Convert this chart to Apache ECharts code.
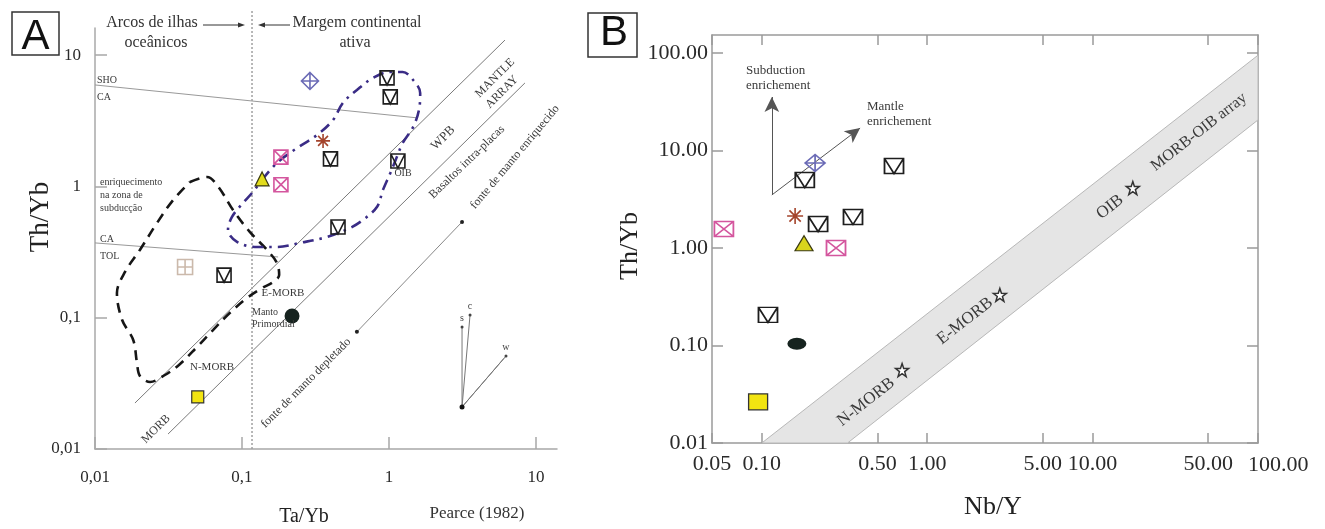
<!DOCTYPE html>
<html>
<head>
<meta charset="utf-8">
<script src="https://cdn.jsdelivr.net/npm/echarts@6/dist/echarts.min.js"></script>
<style>
  html, body { margin: 0; padding: 0; background: #fff; }
  #chart { width: 1325px; height: 529px; }
</style>
</head>
<body>
<div id="chart"></div>
<script>
// ---------- Panel A: Th/Yb vs Ta/Yb (Pearce 1982) ----------
const aTicks = [0.01, 0.1, 1, 10];
const aTickText = ['0,01', '0,1', '1', '10'];

const aSquareV = [[0.97, 6.7], [1.02, 4.8], [0.40, 1.62], [1.15, 1.56], [0.45, 0.49], [0.0755, 0.211]];
const aSquareX = [[0.184, 1.67], [0.184, 1.03]];
const aDiamond = [[0.29, 6.35]];
const aStarburst = [[0.356, 2.22]];
const aTriangle = [[0.137, 1.14]];
const aSquarePlus = [[0.041, 0.243]];
const aPrimordial = [[0.219, 0.103]];
const aYellowSquare = [[0.050, 0.0249]];

// reference lines
const aShoCa = [[0.01, 5.92], [1.57, 3.32]];
const aCaTol = [[0.01, 0.371], [0.176, 0.29]];
const aArrayUpper = [[0.0187, 0.0224], [6.15, 13.0]];
const aArrayLower = [[0.0314, 0.013], [8.41, 6.13]];
const aMantleSource = [[0.605, 0.078], [3.14, 0.536]];
const aDivide = [[0.117, 0.01], [0.117, 22]];
const aVectorOrigin = [3.14, 0.0209];
const aVectorEnds = [['s', 3.14, 0.085], ['c', 3.56, 0.105], ['w', 6.25, 0.051], ['', 6.05, 0.049]];

// fields
const aSubductionField = [
  [0.0443, 1.08], [0.0578, 1.18], [0.0687, 1.0], [0.0869, 0.66], [0.113, 0.45], [0.148, 0.328],
  [0.173, 0.261], [0.179, 0.211], [0.163, 0.187], [0.137, 0.168], [0.108, 0.141], [0.0828, 0.109],
  [0.0635, 0.0805], [0.0494, 0.0598], [0.0379, 0.0444], [0.0299, 0.0366], [0.0237, 0.0324],
  [0.0202, 0.036], [0.0193, 0.0452], [0.0182, 0.0676], [0.0153, 0.096], [0.0141, 0.154],
  [0.016, 0.223], [0.0202, 0.328], [0.0264, 0.526], [0.034, 0.787], [0.0443, 1.08]
];
const aSampleField = [
  [0.137, 1.12], [0.173, 1.51], [0.237, 1.96], [0.324, 2.46], [0.416, 3.2], [0.486, 4.32],
  [0.605, 5.42], [0.778, 6.7], [1.02, 7.43], [1.24, 7.43], [1.46, 6.46], [1.63, 5.14],
  [1.6, 3.82], [1.46, 2.83], [1.24, 2.14], [1.13, 1.67], [1.02, 1.26], [0.91, 0.94],
  [0.83, 0.70], [0.665, 0.555], [0.543, 0.482], [0.379, 0.412], [0.248, 0.371], [0.173, 0.345],
  [0.127, 0.345], [0.0925, 0.378], [0.0803, 0.466], [0.0855, 0.585], [0.1016, 0.748],
  [0.117, 0.89], [0.137, 1.12]
];

// ---------- Panel B: Th/Yb vs Nb/Y ----------
const bXTicks = [0.05, 0.1, 0.5, 1, 5, 10, 50, 100];
const bYTicks = [0.01, 0.1, 1, 10, 100];

const bSquareV = [[0.182, 4.98], [0.63, 6.93], [0.219, 1.76], [0.356, 2.08], [0.109, 0.206]];
const bSquareX = [[0.059, 1.57], [0.281, 1.0]];
const bDiamond = [[0.21, 7.44]];
const bStarburst = [[0.159, 2.13]];
const bTriangle = [[0.18, 1.12]];
const bPrimordial = [[0.163, 0.104]];
const bYellowSquare = [[0.095, 0.0264]];
const bReference = [[0.705, 0.056], [2.75, 0.33], [17.5, 4.12]];
const bArrayUpper = [[0.1, 0.01], [100, 95]];
const bArrayLower = [[0.33, 0.01], [100, 20.6]];
const bSubductionVector = [[0.115, 3.5], [0.115, 35.4]];
const bMantleVector = [[0.115, 3.5], [0.393, 17.0]];

// ---------- helpers ----------
const L = Math.log10;
const toLog = p => [L(p[0]), L(p[1])];
const SERIF = '"Liberation Serif", "DejaVu Serif", serif';

const SYM = {
  squareV: 'path://M0,0H20V20H0Z M0,0L10,20L20,0',
  squareX: 'path://M0,0H20V20H0Z M0,0L20,20 M20,0L0,20',
  squarePlus: 'path://M0,0H20V20H0Z M10,0V20 M0,10H20',
  diamondPlus: 'path://M10,0L20,10L10,20L0,10Z M10,0V20 M0,10H20',
  starburst: 'path://M10,0V20 M0,10H20 M2.93,2.93L17.07,17.07 M17.07,2.93L2.93,17.07',
  star: 'path://M10,0L12.35,6.76L19.51,6.91L13.8,11.24L15.88,18.09L10,14L4.12,18.09L6.2,11.24L0.49,6.91L7.65,6.76Z'
};

function curve(data, gi, lineStyle, extra) {
  return Object.assign({
    type: 'line', xAxisIndex: gi, yAxisIndex: gi, data: data.map(toLog),
    symbol: 'none', silent: true, lineStyle: lineStyle, z: 2
  }, extra || {});
}
function marks(data, gi, symbol, size, itemStyle, z) {
  return {
    type: 'scatter', xAxisIndex: gi, yAxisIndex: gi, data: data.map(toLog),
    symbol: symbol, symbolSize: size, itemStyle: Object.assign({ opacity: 1 }, itemStyle),
    z: z || 5, silent: true
  };
}
const outline = c => ({ color: 'none', borderColor: c, borderWidth: 1.6 });

const axisGreyA = '#a8a8a8';
const axisGreyB = '#9a9a9a';

function logAxis(gridIndex, pos, min, max, ticks, fmt, labelOpts, tickLen, color, labelTicks) {
  const vals = ticks.map(L);
  return {
    gridIndex: gridIndex, type: 'value', position: pos, min: min, max: max,
    axisLine: { show: true, onZero: false, lineStyle: { color: color, width: 1.5 } },
    axisTick: { show: true, inside: true, length: tickLen, customValues: vals, lineStyle: { color: color, width: 1.5 } },
    axisLabel: Object.assign({
      show: !!fmt, customValues: (labelTicks || ticks).map(L), formatter: fmt, fontFamily: SERIF, color: '#2a2a2a',
      showMinLabel: true, showMaxLabel: true, hideOverlap: false
    }, labelOpts || {}),
    splitLine: { show: false }
  };
}
const aFmt = v => {
  const i = aTicks.findIndex(t => Math.abs(L(t) - v) < 1e-6);
  return i < 0 ? '' : aTickText[i];
};
const bFmt = v => Math.pow(10, v).toFixed(2);

const aXMax = 1.143, aYMax = 1.206, bYMax = 2.185;

// ---------- series ----------
const greyLine = { color: '#7a7a7a', width: 1 };
const series = [
  // Panel A reference lines
  curve(aShoCa, 0, { color: '#999', width: 1 }),
  curve(aCaTol, 0, { color: '#999', width: 1 }),
  curve(aArrayUpper, 0, greyLine),
  curve(aArrayLower, 0, greyLine),
  curve(aMantleSource, 0, { color: '#888', width: 1 }),
  marks(aMantleSource, 0, 'circle', 4, { color: '#222' }, 3),
  curve(aDivide, 0, { color: '#a0a0a0', width: 1.5, type: [2, 2] }, { clip: false }),
  // compositional vectors
  ...aVectorEnds.map(e => curve([aVectorOrigin, [e[1], e[2]]], 0, { color: '#777', width: 1 })),
  marks([aVectorOrigin], 0, 'circle', 5, { color: '#111' }, 6),
  {
    type: 'scatter', xAxisIndex: 0, yAxisIndex: 0, silent: true, z: 6,
    data: aVectorEnds.filter(e => e[0]).map(e => ({ value: toLog([e[1], e[2]]), name: e[0] })),
    symbol: 'circle', symbolSize: 3, itemStyle: { color: '#444', opacity: 1 },
    label: { show: true, position: 'top', distance: 2, formatter: p => p.name, fontFamily: SERIF, fontSize: 10, color: '#444' }
  },
  // fields
  curve(aSubductionField, 0, { color: '#161616', width: 2.6, type: [10, 7] }, { smooth: 0.35 }),
  curve(aSampleField, 0, { color: '#3a2c86', width: 2.6, type: [11, 6, 2.5, 6] }, { smooth: 0.35 }),
  // Panel A samples
  marks(aSquareV, 0, SYM.squareV, 14, outline('#1e1e1e')),
  marks(aSquareX, 0, SYM.squareX, 14, outline('#d4569e')),
  marks(aDiamond, 0, SYM.diamondPlus, 17, outline('#6b6bb6')),
  marks(aStarburst, 0, SYM.starburst, 14, outline('#a4442c')),
  marks(aTriangle, 0, 'triangle', 14, { color: '#e2dc1c', borderColor: '#3a3a10', borderWidth: 1.2 }),
  marks(aSquarePlus, 0, SYM.squarePlus, 15, outline('#cbb9ab')),
  marks(aPrimordial, 0, 'circle', 15, { color: '#16231f' }),
  marks(aYellowSquare, 0, 'rect', 12, { color: '#f2e411', borderColor: '#333', borderWidth: 1.2 }),

  // Panel B: MORB-OIB array
  {
    type: 'custom', xAxisIndex: 1, yAxisIndex: 1, silent: true, z: 1,
    data: [[0, 0]],
    renderItem: (params, api) => {
      const poly = [bArrayUpper[0], bArrayUpper[1], bArrayLower[1], bArrayLower[0]]
        .map(p => api.coord(toLog(p)));
      return { type: 'polygon', shape: { points: poly }, style: { fill: '#e5e5e5', stroke: '#b8b8b8', lineWidth: 1 } };
    }
  },
  // enrichment vectors
  {
    type: 'scatter', xAxisIndex: 1, yAxisIndex: 1, data: [], silent: true,
    markLine: {
      silent: true, animation: false, symbol: ['none', 'arrow'], symbolSize: [11, 15],
      label: { show: false },
      lineStyle: { color: '#555', width: 1, type: 'solid' },
      data: [
        [{ coord: toLog(bSubductionVector[0]) }, { coord: toLog(bSubductionVector[1]) }],
        [{ coord: toLog(bMantleVector[0]) }, { coord: toLog(bMantleVector[1]) }]
      ]
    }
  },
  marks(bReference, 1, SYM.star, 13, { color: '#fff', borderColor: '#333', borderWidth: 1.5 }),
  marks(bSquareV, 1, SYM.squareV, [19, 15], outline('#1e1e1e')),
  marks(bSquareX, 1, SYM.squareX, [19, 15], outline('#d4569e')),
  marks(bDiamond, 1, SYM.diamondPlus, [20, 17], outline('#6b6bb6')),
  marks(bStarburst, 1, SYM.starburst, 16, outline('#a4442c')),
  marks(bTriangle, 1, 'triangle', [18, 15], { color: '#d9d41c', borderColor: '#3a3a10', borderWidth: 1.2 }),
  marks(bPrimordial, 1, 'circle', [19, 12], { color: '#16231f' }),
  marks(bYellowSquare, 1, 'rect', [19, 16], { color: '#f2e411', borderColor: '#333', borderWidth: 1.2 })
];

// ---------- annotations ----------
const D = Math.PI / 180;
function txt(s, x, y, size, opts) {
  opts = opts || {};
  return {
    type: 'text', x: x, y: y, rotation: (opts.rot || 0) * D, z: 100, silent: true,
    style: {
      text: s, fill: opts.color || '#3a3a3a', align: opts.align || 'center', verticalAlign: 'middle',
      font: (opts.weight || 'normal') + ' ' + size + 'px ' + (opts.family || SERIF)
    }
  };
}
function arrow(x1, x2, y) {
  const dir = x2 > x1 ? 1 : -1;
  return [
    { type: 'line', z: 100, silent: true, shape: { x1: x1, y1: y, x2: x2 - dir * 6, y2: y }, style: { stroke: '#333', lineWidth: 1 } },
    { type: 'polygon', z: 100, silent: true, shape: { points: [[x2, y], [x2 - dir * 7, y - 2.5], [x2 - dir * 7, y + 2.5]] }, style: { fill: '#333' } }
  ];
}

// the last Nb/Y label sits just past the right edge of the frame
const bLastTick = bXTicks[bXTicks.length - 1];

const graphic = [
  // panel letters
  { type: 'rect', z: 100, silent: true, shape: { x: 12, y: 12, width: 47, height: 43 }, style: { fill: '#fff', stroke: '#333', lineWidth: 1.5 } },
  txt('A', 35.5, 37, 42, { family: '"Liberation Sans", Arial, sans-serif', color: '#111' }),
  { type: 'rect', z: 100, silent: true, shape: { x: 588, y: 13, width: 49, height: 44 }, style: { fill: '#fff', stroke: '#333', lineWidth: 1.5 } },
  txt('B', 614, 33, 42, { family: '"Liberation Sans", Arial, sans-serif', color: '#111' }),

  // Panel A headings
  txt('Arcos de ilhas', 152, 23, 16, { color: '#333' }),
  txt('oceânicos', 156, 43, 16, { color: '#333' }),
  txt('Margem continental', 357, 23, 16, { color: '#333' }),
  txt('ativa', 355, 43, 16, { color: '#333' }),
  ...arrow(203, 245, 25),
  ...arrow(290, 258, 25),

  // Panel A in-plot labels
  txt('SHO', 97, 80, 10, { align: 'left' }),
  txt('CA', 97, 97, 10, { align: 'left' }),
  txt('enriquecimento', 100, 182, 10, { align: 'left' }),
  txt('na zona de', 100, 195, 10, { align: 'left' }),
  txt('subducção', 100, 208, 10, { align: 'left' }),
  txt('CA', 100, 239, 10, { align: 'left' }),
  txt('TOL', 100, 256, 10, { align: 'left' }),
  txt('MANTLE', 495, 78, 12, { rot: 45 }),
  txt('ARRAY', 502, 92, 12, { rot: 45 }),
  txt('WPB', 443, 138, 13, { rot: 45 }),
  txt('Basaltos intra-placas', 467, 162, 12, { rot: 44 }),
  txt('fonte de manto enriquecido', 515, 157, 12, { rot: 50 }),
  txt('fonte de manto depletado', 306, 383, 12, { rot: 45 }),
  txt('OIB', 403, 173, 10),
  txt('E-MORB', 283, 293, 11),
  txt('Manto', 252, 312, 10, { align: 'left' }),
  txt('Primordial', 252, 324, 10, { align: 'left' }),
  txt('N-MORB', 212, 367, 11),
  txt('MORB', 156, 429, 12, { rot: 45 }),

  // Panel A axis titles
  txt('Th/Yb', 41, 217, 27, { rot: 90, color: '#222' }),
  txt('Ta/Yb', 304, 517, 20, { color: '#222' }),
  txt('Pearce (1982)', 477, 514, 17, { color: '#333' }),

  // Panel B labels
  txt('Subduction', 746, 71, 13, { align: 'left' }),
  txt('enrichement', 746, 86, 13, { align: 'left' }),
  txt('Mantle', 867, 107, 13, { align: 'left' }),
  txt('enrichement', 867, 122, 13, { align: 'left' }),
  txt('N-MORB', 866, 402, 17, { rot: 38 }),
  txt('E-MORB', 965, 321, 17, { rot: 38 }),
  txt('OIB', 1110, 207, 17, { rot: 38 }),
  txt('MORB-OIB array', 1199, 132, 16, { rot: 38 }),
  txt(bFmt(L(bLastTick)), 1248, 465, 22, { align: 'left', color: '#2a2a2a' }),
  txt('Th/Yb', 630, 246, 26, { rot: 90, color: '#222' }),
  txt('Nb/Y', 993, 507, 26, { color: '#222' })
];

const option = {
  animation: false,
  backgroundColor: '#fff',
  grid: [
    { left: 95, top: 28, width: 462, height: 421 },
    { left: 712, top: 35, width: 546, height: 408 }
  ],
  xAxis: [
    logAxis(0, 'bottom', -2, aXMax, aTicks, aFmt, { margin: 20, fontSize: 17 }, 12, axisGreyA),
    logAxis(1, 'bottom', L(0.05), 2, bXTicks, bFmt, { margin: 10, fontSize: 22 }, 10, axisGreyB, bXTicks.slice(0, -1)),
    logAxis(1, 'top', L(0.05), 2, bXTicks, null, null, 10, axisGreyB)
  ],
  yAxis: [
    logAxis(0, 'left', -2, aYMax, aTicks, aFmt, { margin: 14, fontSize: 17 }, 12, axisGreyA),
    logAxis(1, 'left', -2, bYMax, bYTicks, bFmt, { margin: 4, fontSize: 22 }, 11, axisGreyB),
    logAxis(1, 'right', -2, bYMax, bYTicks, null, null, 11, axisGreyB)
  ],
  series: series,
  graphic: graphic
};

const chart = echarts.init(document.getElementById('chart'), null, { renderer: 'canvas' });
chart.setOption(option);
</script>
</body>
</html>
